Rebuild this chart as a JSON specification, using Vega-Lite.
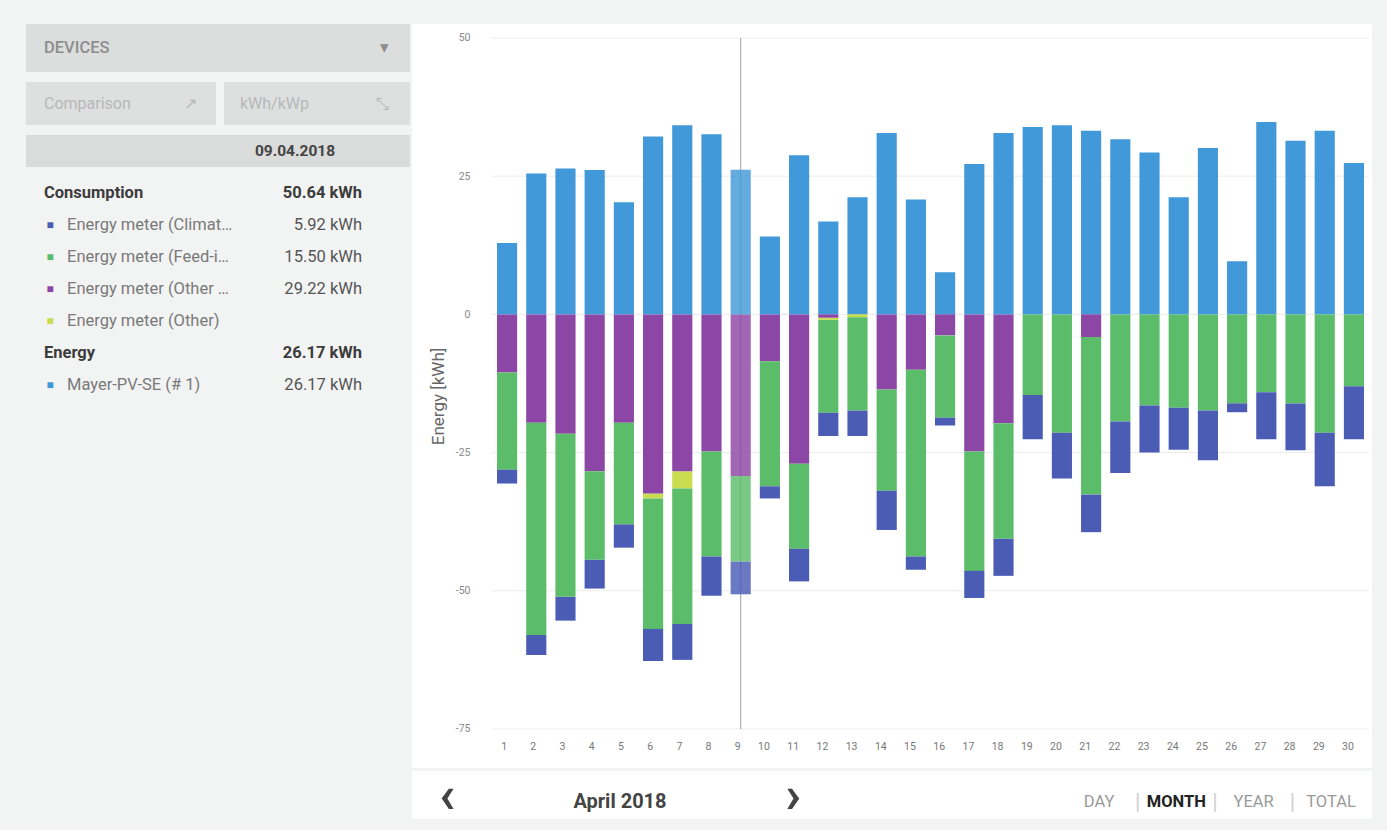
{
  "$schema": "https://vega.github.io/schema/vega-lite/v6.json",
  "background": "#f2f3f3",
  "padding": {"left": 26, "top": 24, "right": 15, "bottom": 12},
  "config": {"font": "Roboto", "view": {"stroke": null}},
  "spacing": 2,
  "hconcat": [
    {
      "spacing": 10,
      "vconcat": [
        {
          "width": 384, "height": 48,
          "view": {"fill": "#dcdddd", "stroke": null},
          "data": {"values": [{"pos": "text", "label": "DEVICES"}, {"pos": "icon", "label": "▾"}]},
          "mark": {"type": "text", "align": "left", "fontSize": 16.5, "fontWeight": 500, "color": "#8d8d8d"},
          "encoding": {
            "x": {"field": "pos", "type": "nominal", "scale": {"type": "point", "domain": ["text", "icon"], "range": [18, 354], "padding": 0}, "axis": null},
            "text": {"field": "label"}
          }
        },
        {
          "spacing": 8,
          "hconcat": [
            {
              "width": 190, "height": 43,
              "view": {"fill": "#dedfdf", "stroke": null},
              "data": {"values": [{"pos": "text", "label": "Comparison"}, {"pos": "icon", "label": "↗"}]},
              "mark": {"type": "text", "align": "left", "fontSize": 16, "color": "#b8b8b8"},
              "encoding": {
                "x": {"field": "pos", "type": "nominal", "scale": {"type": "point", "domain": ["text", "icon"], "range": [18, 158], "padding": 0}, "axis": null},
                "text": {"field": "label"}
              }
            },
            {
              "width": 186, "height": 43,
              "view": {"fill": "#dedfdf", "stroke": null},
              "data": {"values": [{"pos": "text", "label": "kWh/kWp"}, {"pos": "icon", "label": "⤡"}]},
              "mark": {"type": "text", "align": "left", "fontSize": 16, "color": "#b8b8b8"},
              "encoding": {
                "x": {"field": "pos", "type": "nominal", "scale": {"type": "point", "domain": ["text", "icon"], "range": [16, 152], "padding": 0}, "axis": null},
                "text": {"field": "label"}
              }
            }
          ]
        },
        {
          "width": 384, "height": 32,
          "view": {"fill": "#dadbdb", "stroke": null},
          "data": {"values": [{"pos": "date", "label": "09.04.2018"}]},
          "mark": {"type": "text", "align": "center", "fontSize": 15.5, "fontWeight": "bold", "color": "#444444"},
          "encoding": {
            "x": {"field": "pos", "type": "nominal", "scale": {"type": "point", "domain": ["date"], "range": [269, 269], "padding": 0}, "axis": null},
            "text": {"field": "label"}
          }
        },
        {
          "width": 384, "height": 224,
          "data": {"values": [
            {"line": 1, "kind": "head", "name": "Consumption", "amount": "50.64 kWh"},
            {"line": 2, "kind": "item", "series": "Climate", "name": "Energy meter (Climat…", "amount": "5.92 kWh"},
            {"line": 3, "kind": "item", "series": "FeedIn", "name": "Energy meter (Feed-i…", "amount": "15.50 kWh"},
            {"line": 4, "kind": "item", "series": "OtherLoads", "name": "Energy meter (Other …", "amount": "29.22 kWh"},
            {"line": 5, "kind": "item", "series": "Other", "name": "Energy meter (Other)", "amount": ""},
            {"line": 6, "kind": "head", "name": "Energy", "amount": "26.17 kWh"},
            {"line": 7, "kind": "item", "series": "PV", "name": "Mayer-PV-SE (# 1)", "amount": "26.17 kWh"}
          ]},
          "encoding": {
            "y": {"field": "line", "type": "ordinal", "scale": {"type": "point", "domain": [1, 2, 3, 4, 5, 6, 7], "padding": 0.5}, "axis": null}
          },
          "layer": [
            {
              "transform": [{"filter": "datum.kind === 'head'"}],
              "mark": {"type": "text", "align": "left", "fontSize": 16.5, "fontWeight": "bold", "color": "#3c3c3c"},
              "encoding": {
                "x": {"datum": "label", "type": "nominal", "scale": {"type": "point", "domain": ["label", "value"], "range": [18, 336], "padding": 0}, "axis": null},
                "text": {"field": "name"}
              }
            },
            {
              "transform": [{"filter": "datum.kind === 'head'"}],
              "mark": {"type": "text", "align": "right", "fontSize": 16.5, "fontWeight": "bold", "color": "#3c3c3c"},
              "encoding": {
                "x": {"datum": "value", "type": "nominal"},
                "text": {"field": "amount"}
              }
            },
            {
              "transform": [{"filter": "datum.kind === 'item'"}],
              "mark": {"type": "text", "align": "center", "fontSize": 12, "dx": 6},
              "encoding": {
                "x": {"datum": "label", "type": "nominal"},
                "text": {"value": "■"},
                "color": {"field": "series", "type": "nominal", "scale": {"domain": ["PV", "Other", "OtherLoads", "FeedIn", "Climate"], "range": ["#4299d9", "#c8dc4e", "#8c46a5", "#5bbd6a", "#4b5cb4"]}, "legend": null}
              }
            },
            {
              "transform": [{"filter": "datum.kind === 'item'"}],
              "mark": {"type": "text", "align": "left", "fontSize": 16.5, "dx": 23, "color": "#7a7a7a"},
              "encoding": {
                "x": {"datum": "label", "type": "nominal"},
                "text": {"field": "name"}
              }
            },
            {
              "transform": [{"filter": "datum.kind === 'item'"}],
              "mark": {"type": "text", "align": "right", "fontSize": 16.5, "color": "#555555"},
              "encoding": {
                "x": {"datum": "value", "type": "nominal"},
                "text": {"field": "amount"}
              }
            }
          ]
        }
      ]
    },
    {
      "spacing": 2,
      "vconcat": [
        {
          "width": 960, "height": 744,
          "view": {"fill": "#ffffff", "stroke": null},
          "layer": [
            {
              "data": {"values": [{"g": 50}, {"g": 25}, {"g": 0}, {"g": -25}, {"g": -50}, {"g": -75}]},
              "mark": {"type": "rule", "color": "#ececec", "strokeWidth": 1},
              "encoding": {
                "y": {"field": "g", "type": "quantitative"},
                "x": {"datum": 1, "type": "ordinal", "bandPosition": -0.25},
                "x2": {"datum": 30, "bandPosition": 1.25}
              }
            },
            {
              "data": {"values": [{"day": 9}]},
              "mark": {"type": "rule", "color": "#a0a0a0", "strokeWidth": 1},
              "encoding": {
                "x": {"field": "day", "type": "ordinal"},
                "y": {"datum": 50},
                "y2": {"datum": -75}
              }
            },
            {
              "data": {"values": [
                {"day": 1, "series": "PV", "kwh": 12.9}, {"day": 1, "series": "OtherLoads", "kwh": -10.5}, {"day": 1, "series": "FeedIn", "kwh": -17.6}, {"day": 1, "series": "Climate", "kwh": -2.5},
                {"day": 2, "series": "PV", "kwh": 25.5}, {"day": 2, "series": "OtherLoads", "kwh": -19.6}, {"day": 2, "series": "FeedIn", "kwh": -38.4}, {"day": 2, "series": "Climate", "kwh": -3.6},
                {"day": 3, "series": "PV", "kwh": 26.4}, {"day": 3, "series": "OtherLoads", "kwh": -21.6}, {"day": 3, "series": "FeedIn", "kwh": -29.5}, {"day": 3, "series": "Climate", "kwh": -4.3},
                {"day": 4, "series": "PV", "kwh": 26.1}, {"day": 4, "series": "OtherLoads", "kwh": -28.4}, {"day": 4, "series": "FeedIn", "kwh": -16.0}, {"day": 4, "series": "Climate", "kwh": -5.2},
                {"day": 5, "series": "PV", "kwh": 20.3}, {"day": 5, "series": "OtherLoads", "kwh": -19.6}, {"day": 5, "series": "FeedIn", "kwh": -18.4}, {"day": 5, "series": "Climate", "kwh": -4.2},
                {"day": 6, "series": "PV", "kwh": 32.2}, {"day": 6, "series": "Other", "kwh": -0.9}, {"day": 6, "series": "OtherLoads", "kwh": -32.4}, {"day": 6, "series": "FeedIn", "kwh": -23.6}, {"day": 6, "series": "Climate", "kwh": -5.8},
                {"day": 7, "series": "PV", "kwh": 34.2}, {"day": 7, "series": "Other", "kwh": -3.1}, {"day": 7, "series": "OtherLoads", "kwh": -28.4}, {"day": 7, "series": "FeedIn", "kwh": -24.5}, {"day": 7, "series": "Climate", "kwh": -6.5},
                {"day": 8, "series": "PV", "kwh": 32.6}, {"day": 8, "series": "OtherLoads", "kwh": -24.8}, {"day": 8, "series": "FeedIn", "kwh": -19.0}, {"day": 8, "series": "Climate", "kwh": -7.1},
                {"day": 9, "series": "PV", "kwh": 26.17}, {"day": 9, "series": "OtherLoads", "kwh": -29.22}, {"day": 9, "series": "FeedIn", "kwh": -15.5}, {"day": 9, "series": "Climate", "kwh": -5.92},
                {"day": 10, "series": "PV", "kwh": 14.1}, {"day": 10, "series": "OtherLoads", "kwh": -8.5}, {"day": 10, "series": "FeedIn", "kwh": -22.6}, {"day": 10, "series": "Climate", "kwh": -2.2},
                {"day": 11, "series": "PV", "kwh": 28.8}, {"day": 11, "series": "OtherLoads", "kwh": -27.0}, {"day": 11, "series": "FeedIn", "kwh": -15.4}, {"day": 11, "series": "Climate", "kwh": -5.9},
                {"day": 12, "series": "PV", "kwh": 16.8}, {"day": 12, "series": "Other", "kwh": -0.4}, {"day": 12, "series": "OtherLoads", "kwh": -0.6}, {"day": 12, "series": "FeedIn", "kwh": -16.8}, {"day": 12, "series": "Climate", "kwh": -4.2},
                {"day": 13, "series": "PV", "kwh": 21.2}, {"day": 13, "series": "Other", "kwh": -0.5}, {"day": 13, "series": "FeedIn", "kwh": -16.9}, {"day": 13, "series": "Climate", "kwh": -4.6},
                {"day": 14, "series": "PV", "kwh": 32.8}, {"day": 14, "series": "OtherLoads", "kwh": -13.6}, {"day": 14, "series": "FeedIn", "kwh": -18.3}, {"day": 14, "series": "Climate", "kwh": -7.1},
                {"day": 15, "series": "PV", "kwh": 20.8}, {"day": 15, "series": "OtherLoads", "kwh": -10.0}, {"day": 15, "series": "FeedIn", "kwh": -33.8}, {"day": 15, "series": "Climate", "kwh": -2.4},
                {"day": 16, "series": "PV", "kwh": 7.6}, {"day": 16, "series": "OtherLoads", "kwh": -3.8}, {"day": 16, "series": "FeedIn", "kwh": -14.9}, {"day": 16, "series": "Climate", "kwh": -1.4},
                {"day": 17, "series": "PV", "kwh": 27.2}, {"day": 17, "series": "OtherLoads", "kwh": -24.8}, {"day": 17, "series": "FeedIn", "kwh": -21.6}, {"day": 17, "series": "Climate", "kwh": -4.9},
                {"day": 18, "series": "PV", "kwh": 32.8}, {"day": 18, "series": "OtherLoads", "kwh": -19.7}, {"day": 18, "series": "FeedIn", "kwh": -20.9}, {"day": 18, "series": "Climate", "kwh": -6.7},
                {"day": 19, "series": "PV", "kwh": 33.9}, {"day": 19, "series": "FeedIn", "kwh": -14.6}, {"day": 19, "series": "Climate", "kwh": -8.0},
                {"day": 20, "series": "PV", "kwh": 34.2}, {"day": 20, "series": "FeedIn", "kwh": -21.4}, {"day": 20, "series": "Climate", "kwh": -8.3},
                {"day": 21, "series": "PV", "kwh": 33.2}, {"day": 21, "series": "OtherLoads", "kwh": -4.1}, {"day": 21, "series": "FeedIn", "kwh": -28.5}, {"day": 21, "series": "Climate", "kwh": -6.8},
                {"day": 22, "series": "PV", "kwh": 31.7}, {"day": 22, "series": "FeedIn", "kwh": -19.4}, {"day": 22, "series": "Climate", "kwh": -9.3},
                {"day": 23, "series": "PV", "kwh": 29.3}, {"day": 23, "series": "FeedIn", "kwh": -16.5}, {"day": 23, "series": "Climate", "kwh": -8.5},
                {"day": 24, "series": "PV", "kwh": 21.2}, {"day": 24, "series": "FeedIn", "kwh": -16.9}, {"day": 24, "series": "Climate", "kwh": -7.6},
                {"day": 25, "series": "PV", "kwh": 30.1}, {"day": 25, "series": "FeedIn", "kwh": -17.4}, {"day": 25, "series": "Climate", "kwh": -9.0},
                {"day": 26, "series": "PV", "kwh": 9.6}, {"day": 26, "series": "FeedIn", "kwh": -16.1}, {"day": 26, "series": "Climate", "kwh": -1.6},
                {"day": 27, "series": "PV", "kwh": 34.8}, {"day": 27, "series": "FeedIn", "kwh": -14.1}, {"day": 27, "series": "Climate", "kwh": -8.5},
                {"day": 28, "series": "PV", "kwh": 31.4}, {"day": 28, "series": "FeedIn", "kwh": -16.1}, {"day": 28, "series": "Climate", "kwh": -8.5},
                {"day": 29, "series": "PV", "kwh": 33.2}, {"day": 29, "series": "FeedIn", "kwh": -21.4}, {"day": 29, "series": "Climate", "kwh": -9.7},
                {"day": 30, "series": "PV", "kwh": 27.4}, {"day": 30, "series": "FeedIn", "kwh": -13.0}, {"day": 30, "series": "Climate", "kwh": -9.6}
              ]},
              "mark": {"type": "bar"},
              "encoding": {
                "x": {
                  "field": "day", "type": "ordinal",
                  "scale": {"domain": [1, 2, 3, 4, 5, 6, 7, 8, 9, 10, 11, 12, 13, 14, 15, 16, 17, 18, 19, 20, 21, 22, 23, 24, 25, 26, 27, 28, 29, 30], "range": [85, 952], "paddingInner": 0.31, "paddingOuter": 0},
                  "axis": {"title": null, "domain": false, "ticks": false, "tickSize": 0, "labelPadding": 0, "labelBaseline": "middle", "labelAngle": 0, "offset": -22, "labelColor": "#777777", "labelFontSize": 10.5, "grid": false, "zindex": 1}
                },
                "y": {
                  "field": "kwh", "type": "quantitative", "stack": "zero",
                  "scale": {"domain": [-82.06, 52.53], "nice": false, "zero": false},
                  "axis": {"values": [50, 25, 0, -25, -50, -75], "labelExpr": "'' + datum.value", "title": "Energy [kWh]", "titleFontSize": 17, "titleFontWeight": "normal", "titleColor": "#666666", "titlePadding": 8, "domain": false, "ticks": false, "tickSize": 0, "labelPadding": 0, "offset": -58, "grid": false, "labelColor": "#888888", "labelFontSize": 10.5, "zindex": 1}
                },
                "color": {"field": "series", "type": "nominal", "sort": ["PV", "Other", "OtherLoads", "FeedIn", "Climate"], "scale": {"domain": ["PV", "Other", "OtherLoads", "FeedIn", "Climate"], "range": ["#4299d9", "#c8dc4e", "#8c46a5", "#5bbd6a", "#4b5cb4"]}, "legend": null},
                "opacity": {"condition": {"test": "datum.day === 9", "value": 0.82}, "value": 1}
              }
            }
          ]
        },
        {
          "width": 960, "height": 48,
          "view": {"fill": "#ffffff", "stroke": null},
          "resolve": {"scale": {"x": "independent"}},
          "layer": [
            {
              "data": {"values": [{"key": "prev", "label": "‹"}, {"key": "period", "label": "April 2018"}, {"key": "next", "label": "›"}]},
              "layer": [
                {
                  "transform": [{"filter": "datum.key !== 'period'"}],
                  "mark": {"type": "text", "fontSize": 52, "fontWeight": "bold", "color": "#444444", "baseline": "middle", "dy": 1},
                  "encoding": {
                    "x": {"field": "key", "type": "nominal", "scale": {"type": "point", "domain": ["prev", "period", "next"], "range": [35, 381], "padding": 0}, "axis": null},
                    "text": {"field": "label"}
                  }
                },
                {
                  "transform": [{"filter": "datum.key === 'period'"}],
                  "mark": {"type": "text", "fontSize": 20, "fontWeight": "bold", "color": "#444444", "dy": 7},
                  "encoding": {
                    "x": {"field": "key", "type": "nominal"},
                    "text": {"field": "label"}
                  }
                }
              ]
            },
            {
              "data": {"values": [{"key": "DAY", "label": "DAY"}, {"key": "s1", "label": "|"}, {"key": "MONTH", "label": "MONTH"}, {"key": "s2", "label": "|"}, {"key": "YEAR", "label": "YEAR"}, {"key": "s3", "label": "|"}, {"key": "TOTAL", "label": "TOTAL"}]},
              "layer": [
                {
                  "transform": [{"filter": "datum.key === 'DAY' || datum.key === 'YEAR' || datum.key === 'TOTAL'"}],
                  "mark": {"type": "text", "fontSize": 16.5, "color": "#9a9a9a", "dy": 7},
                  "encoding": {
                    "x": {"field": "key", "type": "nominal", "scale": {"type": "point", "domain": ["DAY", "s1", "MONTH", "s2", "YEAR", "s3", "TOTAL"], "range": [687, 919], "padding": 0}, "axis": null},
                    "text": {"field": "label"}
                  }
                },
                {
                  "transform": [{"filter": "datum.key === 'MONTH'"}],
                  "mark": {"type": "text", "fontSize": 16.5, "fontWeight": "bold", "color": "#222222", "dy": 7},
                  "encoding": {
                    "x": {"field": "key", "type": "nominal"},
                    "text": {"field": "label"}
                  }
                },
                {
                  "transform": [{"filter": "datum.label === '|'"}],
                  "mark": {"type": "text", "fontSize": 22, "color": "#d0d0d0", "dy": 7},
                  "encoding": {
                    "x": {"field": "key", "type": "nominal"},
                    "text": {"field": "label"}
                  }
                }
              ]
            }
          ]
        }
      ]
    }
  ]
}
